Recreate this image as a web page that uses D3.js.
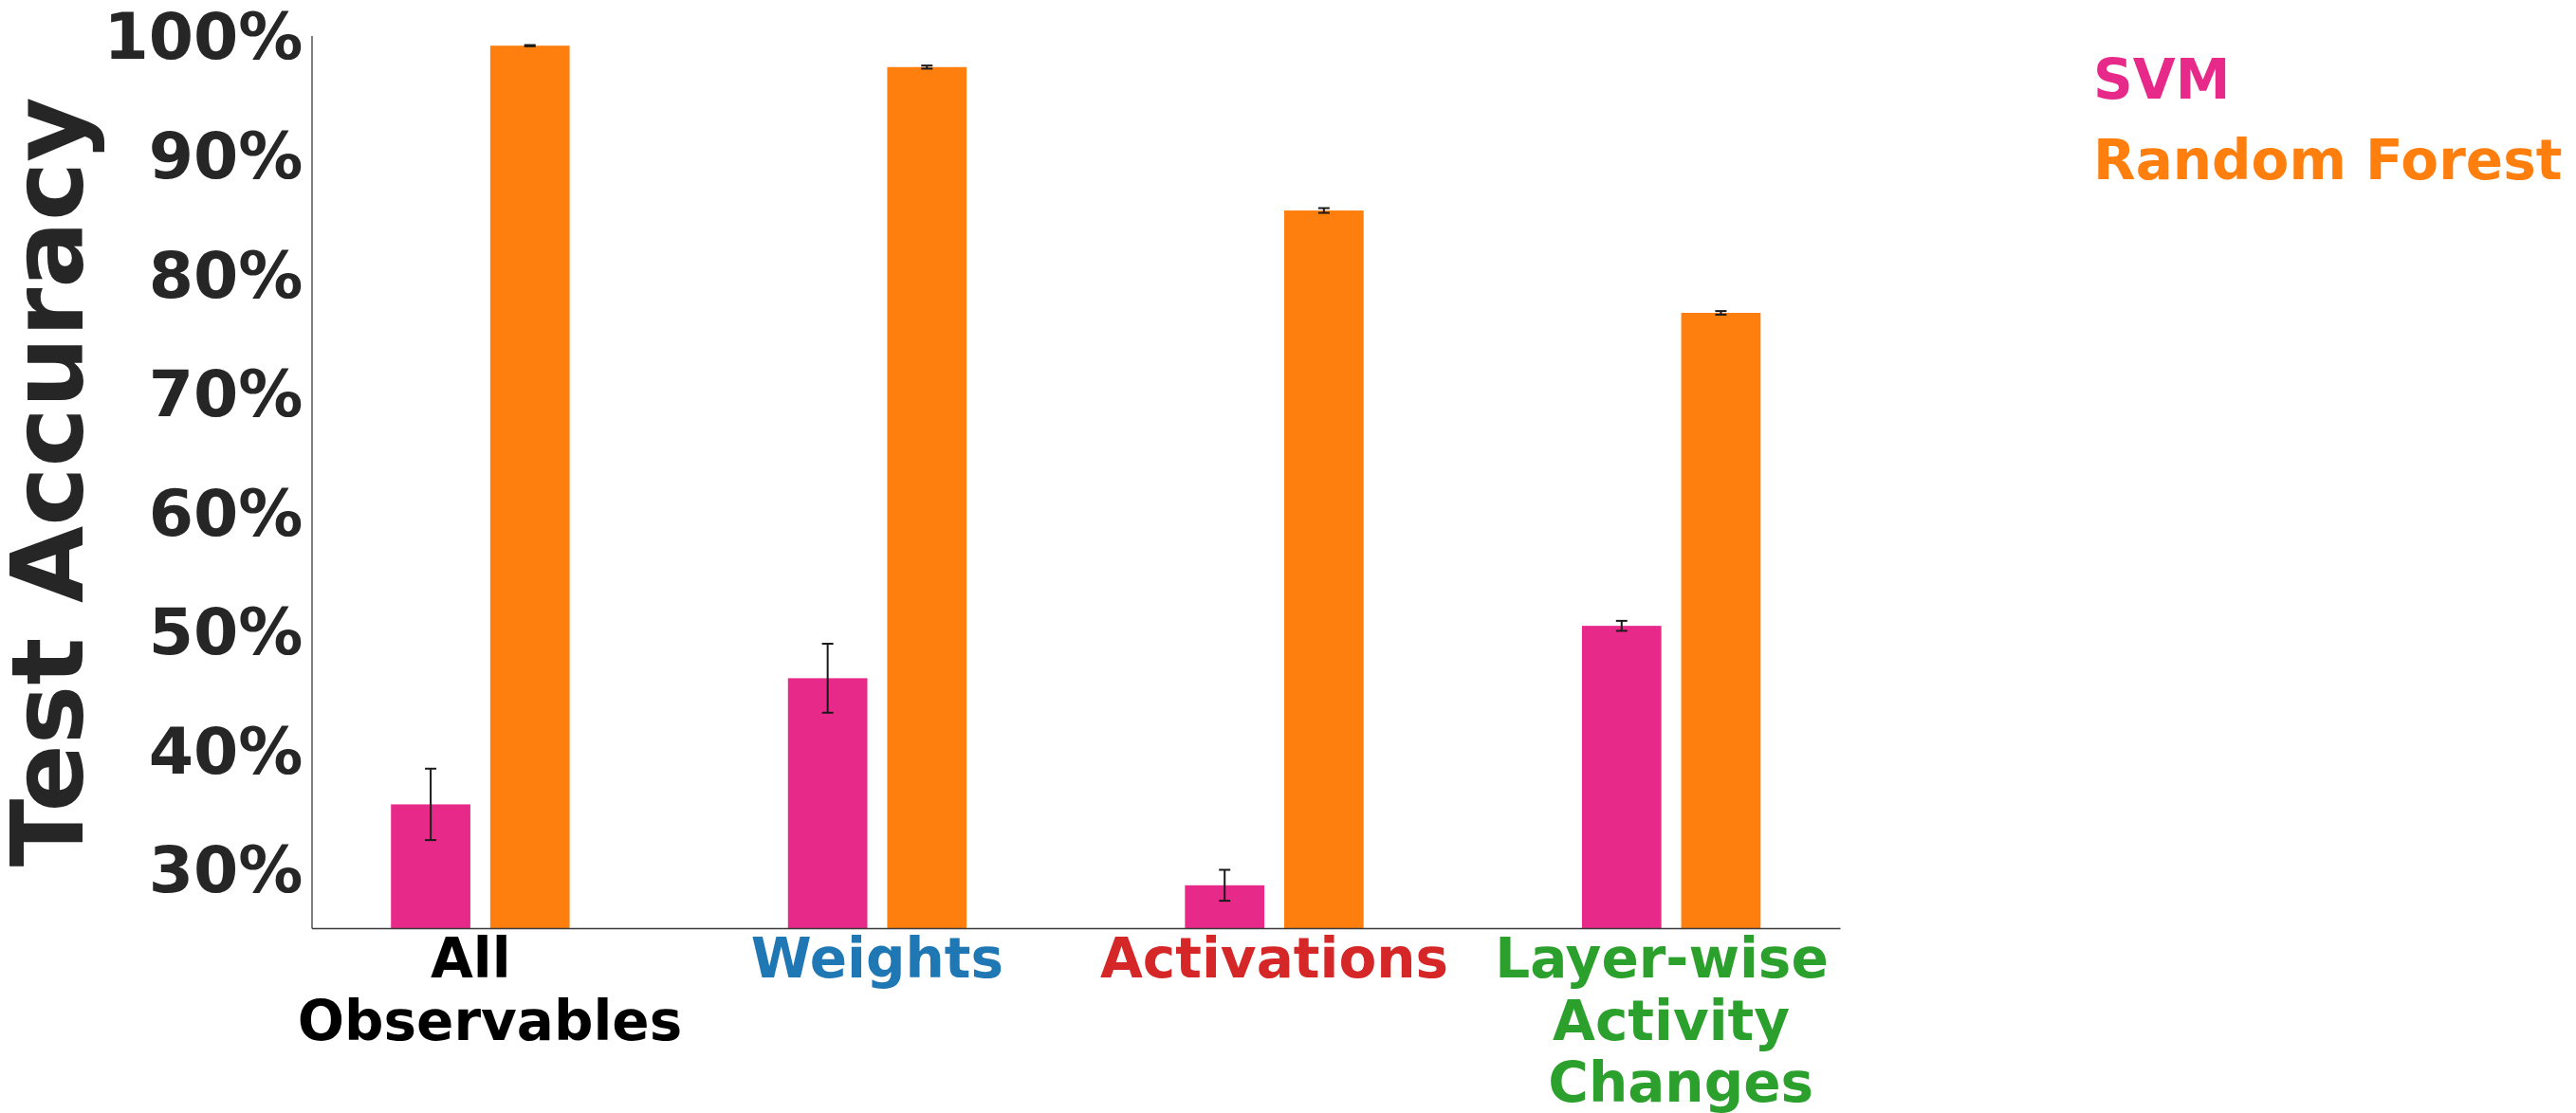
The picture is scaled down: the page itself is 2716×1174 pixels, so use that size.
<!DOCTYPE html>
<html>
<head>
<meta charset="utf-8">
<script src="https://cdn.jsdelivr.net/npm/d3@7"></script>
<style>
  html, body { margin: 0; padding: 0; background: #ffffff; }
  svg { display: block; font-family: "DejaVu Sans", sans-serif; font-weight: bold; }
  .cat { white-space: pre; }
</style>
</head>
<body>
<svg id="chart" width="2716" height="1174"></svg>
<script>
// Feature sets used as classifier inputs (one entry per label line)
const categories = [
  ["All ", " Observables"],
  ["Weights"],
  ["Activations"],
  ["Layer-wise ", "Activity", " Changes"]
];
const categoryColors = ["#000000", "#1f77b4", "#d62728", "#2ca02c"];

// Classifier series
const seriesNames = ["SVM", "Random Forest"];
const seriesColors = ["#e7298a", "#ff7f0e"];

// Mean test accuracy (%) and spread per feature set
const svmMean = [35.4, 46.0, 28.6, 50.4];
const svmErr  = [3.0, 2.9, 1.3, 0.42];
const rfMean  = [99.15, 97.35, 85.3, 76.7];
const rfErr   = [0.05, 0.13, 0.2, 0.15];

const yTicks = [30, 40, 50, 60, 70, 80, 90, 100];

const means = [svmMean, rfMean];
const errs = [svmErr, rfErr];

const svg = d3.select("#chart");
const plot = { left: 328.5, right: 1940, top: 37.5, bottom: 979 };

const x = d3.scaleLinear().domain([-0.425, 3.425]).range([plot.left, plot.right]);
const y = d3.scaleLinear().domain([25, 100]).range([plot.bottom, plot.top]);

const barWidth = 0.2;
const offsets = [-0.125, 0.125];

// Bars
seriesNames.forEach((name, s) => {
  svg.append("g").selectAll("rect")
    .data(means[s])
    .join("rect")
    .attr("x", (d, i) => x(i + offsets[s] - barWidth / 2))
    .attr("width", (d, i) => x(i + offsets[s] + barWidth / 2) - x(i + offsets[s] - barWidth / 2))
    .attr("y", d => y(d))
    .attr("height", d => y(25) - y(d))
    .attr("fill", seriesColors[s]);
});

// Error bars
seriesNames.forEach((name, s) => {
  const g = svg.append("g").attr("stroke", "#1a1a1a").attr("stroke-width", 2);
  means[s].forEach((m, i) => {
    const cx = x(i + offsets[s]);
    const lo = y(m - errs[s][i]);
    const hi = y(m + errs[s][i]);
    g.append("line").attr("x1", cx).attr("x2", cx).attr("y1", lo).attr("y2", hi);
    g.append("line").attr("x1", cx - 6).attr("x2", cx + 6).attr("y1", lo).attr("y2", lo);
    g.append("line").attr("x1", cx - 6).attr("x2", cx + 6).attr("y1", hi).attr("y2", hi);
  });
});

// Y axis
const yAxis = d3.axisLeft(y)
  .tickValues(yTicks)
  .tickSize(0)
  .tickPadding(9)
  .tickFormat(d => d + "%");
const yg = svg.append("g").attr("transform", `translate(${plot.left},0)`).call(yAxis);
yg.select(".domain").attr("stroke", "#3a3a3a").attr("stroke-width", 1.3);
yg.selectAll(".tick text")
  .attr("fill", "#262626")
  .attr("font-size", 68)
  .attr("font-family", "DejaVu Sans")
  .attr("font-weight", "bold")
  .attr("dy", "0.36em");

// X axis line
const xAxis = d3.axisBottom(x).tickValues([]).tickSize(0);
const xg = svg.append("g").attr("transform", `translate(0,${plot.bottom})`).call(xAxis);
xg.select(".domain").attr("stroke", "#3a3a3a").attr("stroke-width", 1.3);

// Category labels
categories.forEach((lines, i) => {
  const t = svg.append("text")
    .attr("class", "cat")
    .attr("text-anchor", "middle")
    .attr("font-size", 58)
    .attr("fill", categoryColors[i]);
  lines.forEach((ln, j) => {
    t.append("tspan")
      .attr("x", x(i))
      .attr("y", 1031 + j * 65.5)
      .text(ln);
  });
});

// Y axis title
svg.append("text")
  .attr("transform", `translate(87,${(plot.top + plot.bottom) / 2}) rotate(-90)`)
  .attr("text-anchor", "middle")
  .attr("font-size", 105)
  .attr("fill", "#262626")
  .text("Test Accuracy");

// Legend as coloured labels
seriesNames.forEach((name, s) => {
  svg.append("text")
    .attr("x", 2207)
    .attr("y", 104 + s * 85)
    .attr("font-size", 58)
    .attr("fill", seriesColors[s])
    .text(name);
});
</script>
</body>
</html>
